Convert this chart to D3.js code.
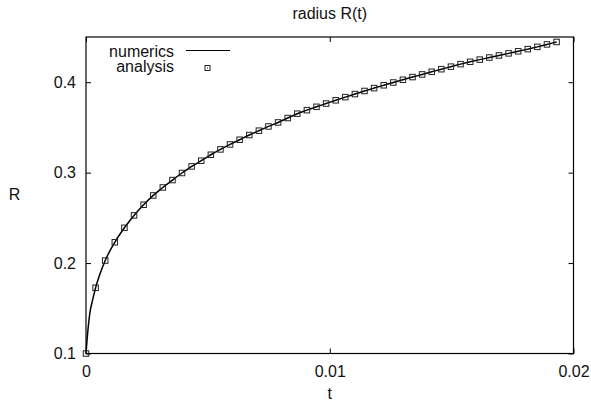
<!DOCTYPE html>
<html>
<head>
<meta charset="utf-8">
<script src="https://cdn.jsdelivr.net/npm/d3@7"></script>
<style>
  html, body { margin: 0; padding: 0; background: #fff; }
  svg { display: block; font-family: "Liberation Sans", Arial, sans-serif; }
</style>
</head>
<body>
<svg id="chart" width="591" height="405"></svg>
<script>
// analysis points
const tAnalysis = [
  0, 0.000394, 0.000788, 0.001182, 0.001576, 0.00197, 0.002364, 0.002758, 0.003152, 0.003546,
  0.00394, 0.004334, 0.004728, 0.005122, 0.005516, 0.00591, 0.006304, 0.006698, 0.007092, 0.007486,
  0.00788, 0.008274, 0.008668, 0.009062, 0.009456, 0.00985, 0.010244, 0.010638, 0.011032, 0.011426,
  0.01182, 0.012214, 0.012608, 0.013002, 0.013396, 0.01379, 0.014184, 0.014578, 0.014972, 0.015366,
  0.01576, 0.016154, 0.016548, 0.016942, 0.017336, 0.01773, 0.018124, 0.018518, 0.018912, 0.019306
];
const rAnalysis = [
  0.1000, 0.1727, 0.2028, 0.2230, 0.2390, 0.2527, 0.2645, 0.2748, 0.2836, 0.2918,
  0.2996, 0.3069, 0.3132, 0.3198, 0.3257, 0.3312, 0.3364, 0.3416, 0.3464, 0.3511,
  0.3555, 0.3604, 0.3652, 0.3691, 0.3728, 0.3764, 0.3800, 0.3835, 0.3869, 0.3903,
  0.3935, 0.3966, 0.3997, 0.4027, 0.4057, 0.4086, 0.4115, 0.4144, 0.4172, 0.4200,
  0.4226, 0.4250, 0.4273, 0.4296, 0.4319, 0.4342, 0.4366, 0.4391, 0.4418, 0.4445
];

// numerics line: a few extra samples near t=0, then the same points
const tNumStart = [0, 0.00008, 0.00016, 0.00027];
const rNumStart = [0.1, 0.126, 0.145, 0.159];

const xTicks = [0, 0.01, 0.02];
const yTicks = [0.1, 0.2, 0.3, 0.4];

const margin = { left: 86, right: 17.5, top: 37, bottom: 51.5 };
const W = 591, H = 405;
const FS = 16;

const svg = d3.select('#chart');
const x = d3.scaleLinear().domain([0, 0.02]).range([margin.left, W - margin.right]);
const y = d3.scaleLinear().domain([0.1, 0.45]).range([H - margin.bottom, margin.top]);

const numT = tNumStart.concat(tAnalysis.slice(1));
const numR = rNumStart.concat(rAnalysis.slice(1));

const fmt = d => d === 0 ? '0' : String(d);

// axes, ticks inward and mirrored
const axes = [
  { a: d3.axisBottom(x).tickValues(xTicks).tickFormat(fmt).tickSize(-5).tickPadding(12), t: `translate(0,${y(0.1)})`, label: true },
  { a: d3.axisTop(x).tickValues(xTicks).tickSize(-5), t: `translate(0,${y(0.45)})`, label: false },
  { a: d3.axisLeft(y).tickValues(yTicks).tickFormat(fmt).tickSize(-5).tickPadding(10), t: `translate(${x(0)},0)`, label: true },
  { a: d3.axisRight(y).tickValues(yTicks).tickSize(-5), t: `translate(${x(0.02)},0)`, label: false }
];
axes.forEach(o => {
  const g = svg.append('g').attr('transform', o.t).call(o.a);
  g.select('.domain').remove();
  g.selectAll('line').attr('stroke', '#000');
  if (o.label) {
    g.selectAll('text').attr('font-size', FS).attr('fill', '#111')
      .attr('font-family', '"Liberation Sans", Arial, sans-serif');
  } else {
    g.selectAll('text').remove();
  }
});

// border
svg.append('rect')
  .attr('x', x(0)).attr('y', y(0.45))
  .attr('width', x(0.02) - x(0)).attr('height', y(0.1) - y(0.45))
  .attr('fill', 'none').attr('stroke', '#000').attr('stroke-width', 1.2);

// numerics line
const line = d3.line().x((d, i) => x(numT[i])).y(d => y(d)).curve(d3.curveMonotoneX);
svg.append('path').datum(numR)
  .attr('d', line)
  .attr('fill', 'none').attr('stroke', '#000').attr('stroke-width', 1.5);

// analysis squares
const pts = svg.append('g').selectAll('g').data(rAnalysis).enter().append('g')
  .attr('transform', (d, i) => `translate(${x(tAnalysis[i])},${y(d)})`);
pts.append('rect')
  .attr('x', -2.75).attr('y', -2.75).attr('width', 5.5).attr('height', 5.5)
  .attr('fill', 'none').attr('stroke', '#222').attr('stroke-width', 1);

// legend
const legend = svg.append('g').attr('font-size', FS).attr('fill', '#111');
legend.append('text').attr('x', 174).attr('y', 56.5).attr('text-anchor', 'end').text('numerics');
legend.append('line').attr('x1', 186).attr('x2', 230).attr('y1', 50.5).attr('y2', 50.5)
  .attr('stroke', '#000').attr('stroke-width', 1.2);
legend.append('text').attr('x', 174).attr('y', 72).attr('text-anchor', 'end').text('analysis');
legend.append('rect').attr('x', 205).attr('y', 65.5).attr('width', 5).attr('height', 5)
  .attr('fill', 'none').attr('stroke', '#222').attr('stroke-width', 1);
legend.append('rect').attr('x', 207).attr('y', 67.5).attr('width', 1).attr('height', 1).attr('fill', '#222');

// titles
svg.append('text').attr('x', x(0.01)).attr('y', 18.5).attr('text-anchor', 'middle')
  .attr('font-size', FS).attr('fill', '#111').text('radius R(t)');
svg.append('text').attr('x', x(0.01)).attr('y', 399).attr('text-anchor', 'middle')
  .attr('font-size', FS).attr('fill', '#111').text('t');
svg.append('text').attr('x', 14.5).attr('y', 200).attr('text-anchor', 'middle')
  .attr('font-size', FS).attr('fill', '#111').text('R');
</script>
</body>
</html>
